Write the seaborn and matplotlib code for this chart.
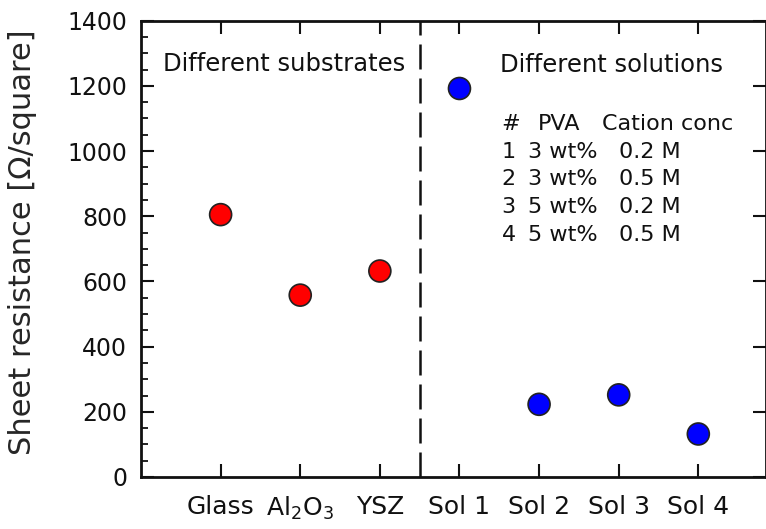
import matplotlib
matplotlib.use("Agg")
import matplotlib.pyplot as plt
from matplotlib.ticker import MultipleLocator
import numpy as np
import pandas as pd
import seaborn as sns

# Samples and measured sheet resistance (Ohm/square)
categories = ["Glass", r"Al$_2$O$_3$", "YSZ", "Sol 1", "Sol 2", "Sol 3", "Sol 4"]
groups = ["substrate", "substrate", "substrate", "solution", "solution", "solution", "solution"]
resistance = [805, 558, 632, 1192, 223, 252, 132]

# Solution recipes listed in the inset table
sol_ids = ["1", "2", "3", "4"]
pva_content = ["3 wt%", "3 wt%", "5 wt%", "5 wt%"]
cation_conc = ["0.2 M", "0.5 M", "0.2 M", "0.5 M"]

sns.set_style("ticks")
plt.rcParams["font.family"] = ["DejaVu Sans"]
plt.rcParams["mathtext.fontset"] = "dejavusans"
plt.rcParams["mathtext.default"] = "regular"

df = pd.DataFrame({
    "sample": categories,
    "pos": np.arange(1, len(categories) + 1),
    "value": resistance,
    "group": groups,
})

W, H = 766, 529
fig = plt.figure(figsize=(W / 100, H / 100), dpi=100)
ax = fig.add_axes([141 / W, 52 / H, 625 / W, 456.3 / H])

sns.scatterplot(
    data=df, x="pos", y="value", hue="group",
    palette={"substrate": "#ff0000", "solution": "#0000ff"},
    s=250, edgecolor="#222222", linewidth=1.2, legend=False, ax=ax, zorder=3,
)

# Divider between the two sample groups
ax.plot([3.5, 3.5], [0, 1400], color="#111111", lw=1.8,
        dashes=(10, 3.6), zorder=2)

ax.set_xlim(0, 7.85)
ax.set_ylim(0, 1400)
ax.set_xticks(df["pos"], df["sample"])
ax.set_yticks(np.arange(0, 1401, 200))
ax.yaxis.set_minor_locator(MultipleLocator(50))
ax.set_xlabel("")
ax.set_ylabel("Sheet resistance [\u03a9/square]", fontsize=22)
ax.yaxis.set_label_coords(-0.166, 0.514)

for side in ["left", "right", "top", "bottom"]:
    ax.spines[side].set_visible(True)
    ax.spines[side].set_linewidth(2.0)
    ax.spines[side].set_color("#111111")

ax.tick_params(axis="x", which="major", direction="in", length=9.5, width=1.5,
               top=True, bottom=True, labelsize=18, pad=13, colors="#111111")
ax.tick_params(axis="x", which="minor", bottom=False, top=False)
ax.tick_params(axis="y", which="major", direction="in", length=9.5, width=1.5,
               left=True, right=True, labelsize=17, pad=10, colors="#111111")
ax.tick_params(axis="y", which="minor", direction="in", length=4.7, width=1.3,
               left=True, right=False, colors="#111111")

ax.text(1.80, 1246, "Different substrates", fontsize=17.5, ha="center",
        va="baseline", color="#111111")
ax.text(5.91, 1243, "Different solutions", fontsize=17.5, ha="center",
        va="baseline", color="#111111")

# Inset table of solution recipes
tsize = 16
header_y = 1065
row_step = 85
ax.text(4.53, header_y, "#", fontsize=tsize, va="baseline", color="#111111")
ax.text(4.99, header_y, "PVA", fontsize=tsize, va="baseline", color="#111111")
ax.text(5.79, header_y, "Cation conc", fontsize=tsize, va="baseline", color="#111111")
for i, (sid, pva, cat) in enumerate(zip(sol_ids, pva_content, cation_conc)):
    yy = header_y - row_step * (i + 1)
    ax.text(4.53, yy, sid, fontsize=tsize, va="baseline", color="#111111")
    ax.text(4.86, yy, pva, fontsize=tsize, va="baseline", color="#111111")
    ax.text(6.00, yy, cat, fontsize=tsize, va="baseline", color="#111111")

fig.savefig("out.png", dpi=100)
